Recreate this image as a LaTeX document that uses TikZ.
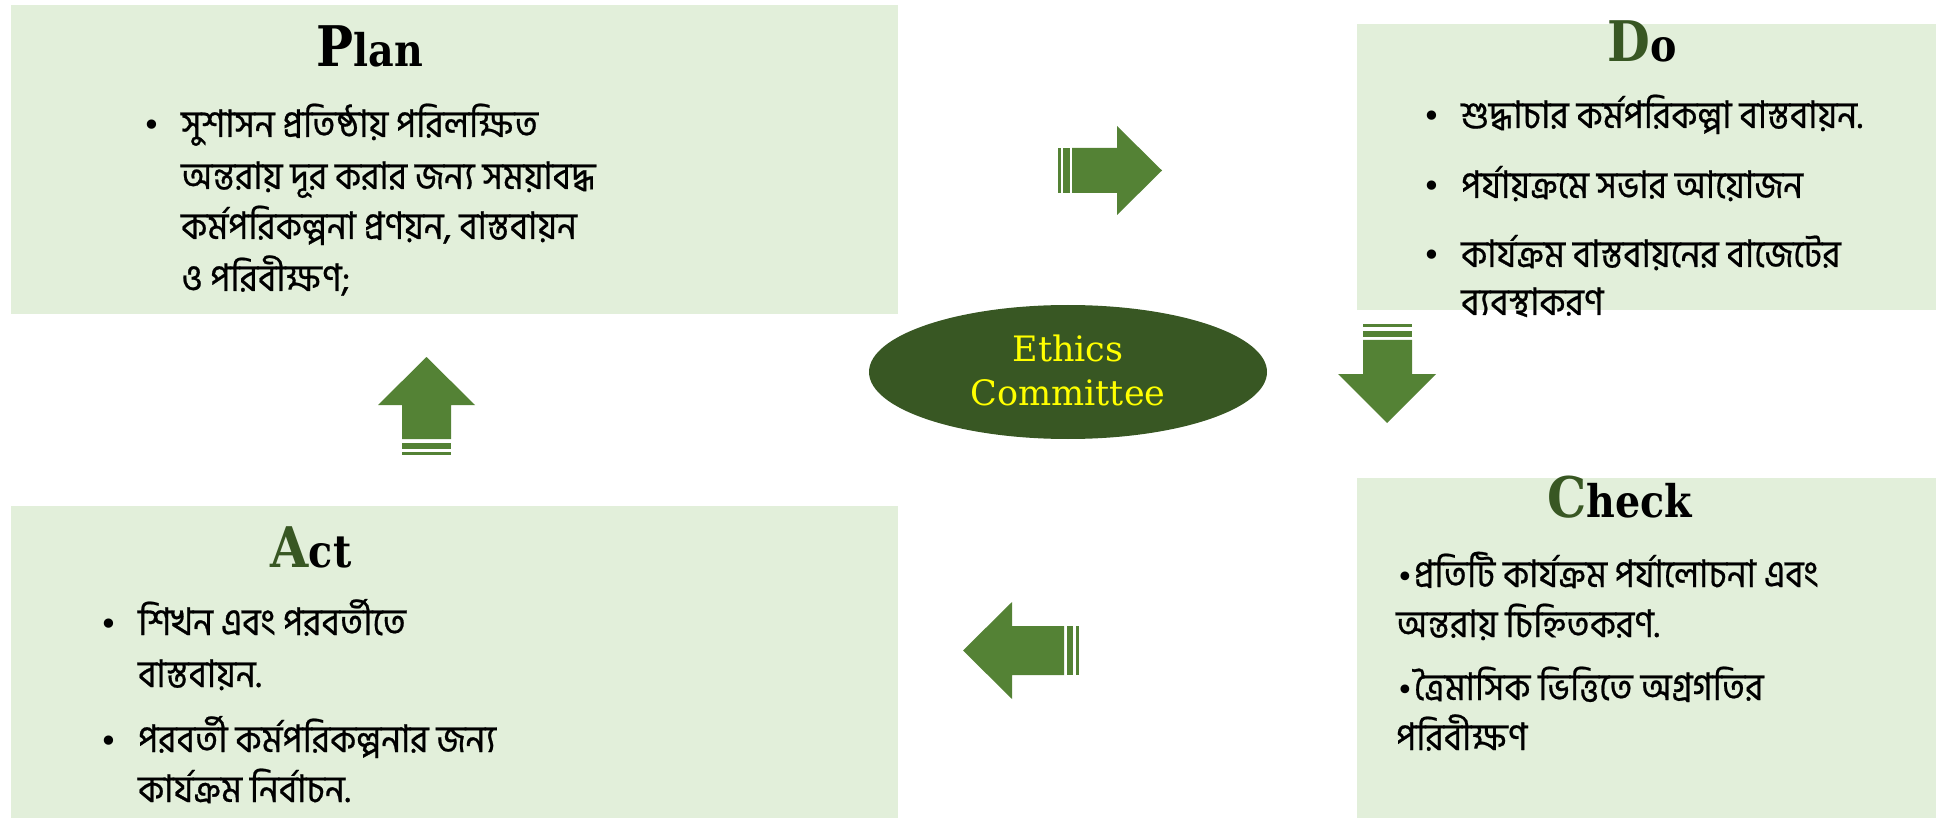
\documentclass[tikz,border=0pt]{standalone}
\usepackage{fontspec}
\setmainfont{DejaVu Serif}
\newfontfamily\bn[Script=Bengali,FakeBold=0.6,FakeStretch=0.92]{Hind Siliguri}
\newfontfamily\tfont[FakeStretch=0.88]{DejaVu Serif}
\newfontfamily\symf{DejaVu Sans}
\definecolor{boxfill}{HTML}{E2EFDA}
\definecolor{arrowgreen}{HTML}{548235}
\definecolor{dkgreen}{HTML}{385723}
\definecolor{ethyellow}{HTML}{FFFF00}
\tikzset{
  panel/.style={fill=boxfill, draw=none},
  blockarrow/.style={fill=arrowgreen, draw=none},
  bline/.style={anchor=base west, inner sep=0pt, font=\bn\fontsize{38}{42}\selectfont},
  bdot/.style={anchor=base west, inner sep=0pt, font=\symf\fontsize{32}{36}\selectfont},
  ttl/.style={anchor=base, inner sep=0pt, font=\tfont\bfseries},
  ethtext/.style={anchor=base, inner sep=0pt, text=ethyellow, font=\fontsize{35}{40}\selectfont},
}
\newcommand{\ttlbig}[1]{{\fontsize{56}{60}\selectfont #1}}
\newcommand{\ttlrest}[1]{{\fontsize{45}{50}\selectfont #1}}
\begin{document}
\begin{tikzpicture}[x=1pt,y=-1pt]
\useasboundingbox (0,0) rectangle (1936,818);
% panels
\fill[panel] (11,5) rectangle (898,314);
\fill[panel] (1357,24) rectangle (1936,310);
\fill[panel] (1357,478) rectangle (1936,818);
\fill[panel] (11,506) rectangle (898,818);
% titles
\node[ttl] (plant) at (370,67) {\ttlbig{P}\ttlrest{lan}};
\node[ttl] (dot) at (1642,62) {\ttlbig{\textcolor{dkgreen}{D}}\ttlrest{o}};
\node[ttl] (checkt) at (1620,517) {\ttlbig{\textcolor{dkgreen}{C}}\ttlrest{heck}};
\node[ttl] (actt) at (311,567) {\ttlbig{\textcolor{dkgreen}{A}}\ttlrest{ct}};
% plan text
\node[bdot] (pb1) at (142,137) {•};
\node[bline] (p1) at (181,137) {সুশাসন প্রতিষ্ঠায় পরিলক্ষিত};
\node[bline] (p2) at (181,189) {অন্তরায় দূর করার জন্য সময়াবদ্ধ};
\node[bline] (p3) at (181,239) {কর্মপরিকল্পনা প্রণয়ন, বাস্তবায়ন};
\node[bline] (p4) at (181,291) {ও পরিবীক্ষণ;};
% do text
\node[bdot] (db1) at (1422,128) {•};
\node[bline] (d1) at (1461,128) {শুদ্ধাচার কর্মপরিকল্পা বাস্তবায়ন.};
\node[bdot] (db2) at (1422,198) {•};
\node[bline] (d2) at (1461,198) {পর্যায়ক্রমে সভার আয়োজন};
\node[bdot] (db3) at (1422,267) {•};
\node[bline] (d3) at (1461,267) {কার্যক্রম বাস্তবায়নের বাজেটের};
\node[bline] (d4) at (1461,315) {ব্যবস্থাকরণ};
% check text
\node[bline] (c1) at (1396,587) {{\symf\fontsize{30}{36}\selectfont •}প্রতিটি কার্যক্রম পর্যালোচনা এবং};
\node[bline] (c2) at (1396,637) {অন্তরায় চিহ্নিতকরণ.};
\node[bline] (c3) at (1396,700) {{\symf\fontsize{30}{36}\selectfont •}ত্রৈমাসিক ভিত্তিতে অগ্রগতির};
\node[bline] (c4) at (1396,750) {পরিবীক্ষণ};
% act text
\node[bdot] (ab1) at (99,635) {•};
\node[bline] (a1) at (138,635) {শিখন এবং পরবর্তীতে};
\node[bline] (a2) at (138,687) {বাস্তবায়ন.};
\node[bdot] (ab2) at (99,752) {•};
\node[bline] (a3) at (138,752) {পরবর্তী কর্মপরিকল্পনার জন্য};
\node[bline] (a4) at (138,802) {কার্যক্রম নির্বাচন.};
% ellipse
\fill[dkgreen] (1068,372) ellipse [x radius=199, y radius=67];
\node[ethtext] (eth1) at (1068,362) {Ethics};
\node[ethtext] (eth2) at (1068,405) {Committee};
% right arrow (Plan -> Do)
\fill[blockarrow] (1058,148) rectangle (1061,193);
\fill[blockarrow] (1063,148) rectangle (1070,193);
\fill[blockarrow] (1072,148) -- (1117,148) -- (1117,126) -- (1162,170.5) -- (1117,215) -- (1117,193) -- (1072,193) -- cycle;
% down arrow (Do -> Check)
\fill[blockarrow] (1363,324) rectangle (1412,327);
\fill[blockarrow] (1363,331) rectangle (1412,337);
\fill[blockarrow] (1363,340) -- (1363,374) -- (1338,374) -- (1387,423) -- (1436,374) -- (1412,374) -- (1412,340) -- cycle;
% left arrow (Check -> Act)
\fill[blockarrow] (1076,626) rectangle (1079,675);
\fill[blockarrow] (1067,626) rectangle (1073,675);
\fill[blockarrow] (1064,626) -- (1012,626) -- (1012,602) -- (963,650.5) -- (1012,699) -- (1012,675) -- (1064,675) -- cycle;
% up arrow (Act -> Plan)
\fill[blockarrow] (402,452) rectangle (451,455);
\fill[blockarrow] (402,443) rectangle (451,449);
\fill[blockarrow] (402,439) -- (402,405) -- (378,405) -- (426.5,357) -- (475,405) -- (451,405) -- (451,439) -- cycle;
\end{tikzpicture}
\end{document}
